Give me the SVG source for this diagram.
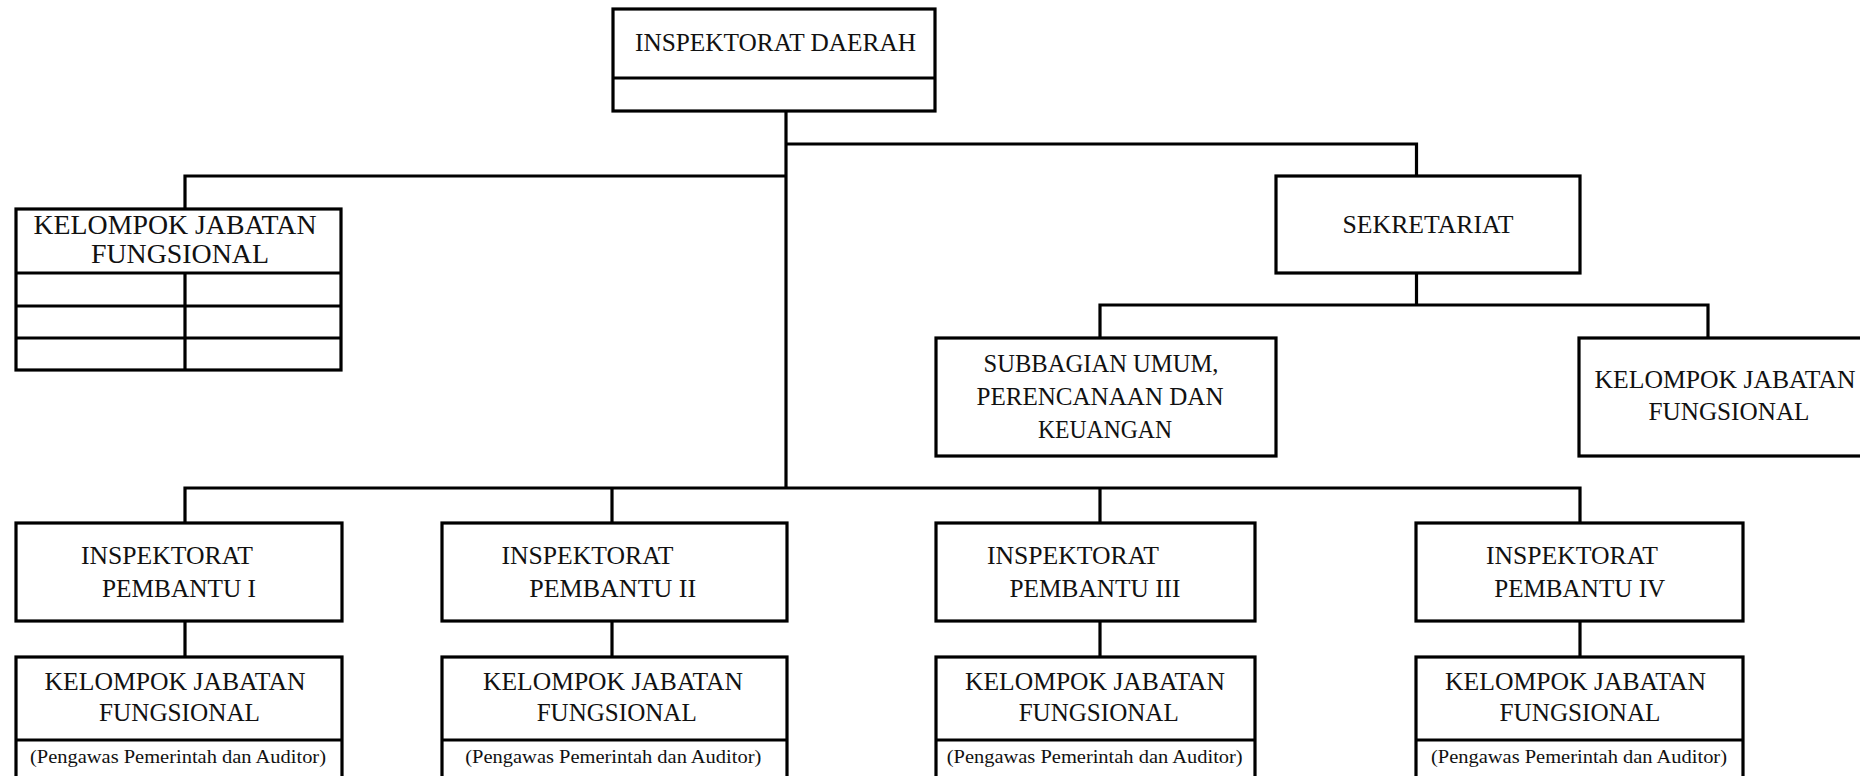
<svg xmlns="http://www.w3.org/2000/svg" width="1860" height="776" viewBox="0 0 1860 776">
<style>
.box{fill:#fff;stroke:#000;stroke-width:3.2}
.ln{fill:none;stroke:#000;stroke-width:3.2}
text{font-family:"Liberation Serif","Times New Roman",serif;font-size:25px;fill:#111;text-anchor:middle}
.big{font-size:27px}
.sm{font-size:18px}
</style>
<rect width="1860" height="776" fill="#fff"/>
<g id="connectors">
<path class="ln" d="M786,111 V488"/>
<path class="ln" d="M786,144 H1416.5 V176"/>
<path class="ln" d="M786,176 H185 V209"/>
<path class="ln" d="M1416.5,273 V305"/>
<path class="ln" d="M1100,338 V305 H1708 V338"/>
<path class="ln" d="M185,523 V488 H1580 V523"/>
<path class="ln" d="M612,488 V523"/>
<path class="ln" d="M1100,488 V523"/>
<path class="ln" d="M185,621 V657"/>
<path class="ln" d="M612,621 V657"/>
<path class="ln" d="M1100,621 V657"/>
<path class="ln" d="M1580,621 V657"/>
</g>
<g id="inspektorat-daerah">
<rect class="box" x="613" y="9" width="322" height="102"/>
<line class="ln" x1="613" y1="78" x2="935" y2="78"/>
<text x="775.5" y="51" textLength="281" lengthAdjust="spacingAndGlyphs">INSPEKTORAT DAERAH</text>
</g>
<g id="kjf-kiri">
<rect class="box" x="16" y="209" width="325" height="161"/>
<path class="ln" d="M16,273 H341 M16,306 H341 M16,338 H341 M185,273 V370"/>
<text class="big" x="175" y="234" textLength="283" lengthAdjust="spacingAndGlyphs">KELOMPOK JABATAN</text>
<text class="big" x="180" y="263" textLength="178" lengthAdjust="spacingAndGlyphs">FUNGSIONAL</text>
</g>
<g id="sekretariat">
<rect class="box" x="1276" y="176" width="304" height="97"/>
<text x="1428" y="233" textLength="171" lengthAdjust="spacingAndGlyphs">SEKRETARIAT</text>
</g>
<g id="subbagian">
<rect class="box" x="936" y="338" width="340" height="118"/>
<text x="1101" y="372" textLength="235" lengthAdjust="spacingAndGlyphs">SUBBAGIAN UMUM,</text>
<text x="1100" y="405" textLength="247" lengthAdjust="spacingAndGlyphs">PERENCANAAN DAN</text>
<text x="1105" y="438" textLength="134" lengthAdjust="spacingAndGlyphs">KEUANGAN</text>
</g>
<g id="kjf-sekretariat">
<rect class="box" x="1579" y="338" width="300" height="118"/>
<text x="1725" y="388" textLength="261" lengthAdjust="spacingAndGlyphs">KELOMPOK JABATAN</text>
<text x="1729" y="420" textLength="161" lengthAdjust="spacingAndGlyphs">FUNGSIONAL</text>
</g>
<g id="ip1">
<rect class="box" x="16" y="523" width="326" height="98"/>
<text x="167" y="564" textLength="172" lengthAdjust="spacingAndGlyphs">INSPEKTORAT</text>
<text x="179" y="597" textLength="154" lengthAdjust="spacingAndGlyphs">PEMBANTU I</text>
</g>
<g id="kjf1">
<rect class="box" x="16" y="657" width="326" height="130"/>
<line class="ln" x1="16" y1="740" x2="342" y2="740"/>
<text x="175" y="690" textLength="261" lengthAdjust="spacingAndGlyphs">KELOMPOK JABATAN</text>
<text x="179.5" y="721" textLength="161" lengthAdjust="spacingAndGlyphs">FUNGSIONAL</text>
<text class="sm" x="178" y="763" textLength="296" lengthAdjust="spacingAndGlyphs">(Pengawas Pemerintah dan Auditor)</text>
</g>
<g id="ip2">
<rect class="box" x="442" y="523" width="345" height="98"/>
<text x="587.5" y="564" textLength="172" lengthAdjust="spacingAndGlyphs">INSPEKTORAT</text>
<text x="612.7" y="597" textLength="167" lengthAdjust="spacingAndGlyphs">PEMBANTU II</text>
</g>
<g id="kjf2">
<rect class="box" x="442" y="657" width="345" height="130"/>
<line class="ln" x1="442" y1="740" x2="787" y2="740"/>
<text x="613" y="690" textLength="260" lengthAdjust="spacingAndGlyphs">KELOMPOK JABATAN</text>
<text x="616.7" y="721" textLength="160" lengthAdjust="spacingAndGlyphs">FUNGSIONAL</text>
<text class="sm" x="613.3" y="763" textLength="296" lengthAdjust="spacingAndGlyphs">(Pengawas Pemerintah dan Auditor)</text>
</g>
<g id="ip3">
<rect class="box" x="936" y="523" width="319" height="98"/>
<text x="1073" y="564" textLength="172" lengthAdjust="spacingAndGlyphs">INSPEKTORAT</text>
<text x="1095" y="597" textLength="171" lengthAdjust="spacingAndGlyphs">PEMBANTU III</text>
</g>
<g id="kjf3">
<rect class="box" x="936" y="657" width="319" height="130"/>
<line class="ln" x1="936" y1="740" x2="1255" y2="740"/>
<text x="1095" y="690" textLength="260" lengthAdjust="spacingAndGlyphs">KELOMPOK JABATAN</text>
<text x="1098.7" y="721" textLength="160" lengthAdjust="spacingAndGlyphs">FUNGSIONAL</text>
<text class="sm" x="1094.7" y="763" textLength="296" lengthAdjust="spacingAndGlyphs">(Pengawas Pemerintah dan Auditor)</text>
</g>
<g id="ip4">
<rect class="box" x="1416" y="523" width="327" height="98"/>
<text x="1572" y="564" textLength="172" lengthAdjust="spacingAndGlyphs">INSPEKTORAT</text>
<text x="1579.7" y="597" textLength="171" lengthAdjust="spacingAndGlyphs">PEMBANTU IV</text>
</g>
<g id="kjf4">
<rect class="box" x="1416" y="657" width="327" height="130"/>
<line class="ln" x1="1416" y1="740" x2="1743" y2="740"/>
<text x="1575.5" y="690" textLength="261" lengthAdjust="spacingAndGlyphs">KELOMPOK JABATAN</text>
<text x="1580" y="721" textLength="161" lengthAdjust="spacingAndGlyphs">FUNGSIONAL</text>
<text class="sm" x="1579" y="763" textLength="296" lengthAdjust="spacingAndGlyphs">(Pengawas Pemerintah dan Auditor)</text>
</g>
</svg>
